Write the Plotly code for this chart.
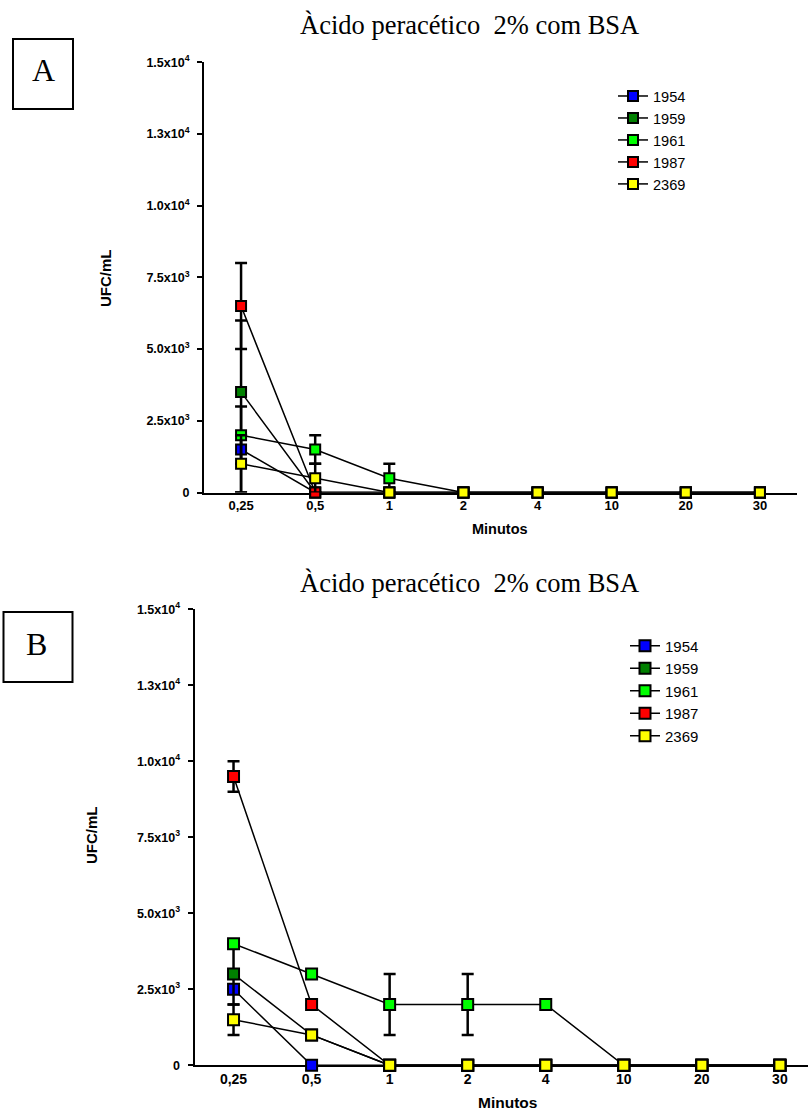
import plotly.graph_objects as go

W, H = 808, 1113

# Tempos de exposição (eixo categórico) e cepas
minutos = ["0,25", "0,5", "1", "2", "4", "10", "20", "30"]
cepas = ["1954", "1959", "1961", "1987", "2369"]
cores = ["#0000FF", "#008000", "#00FF00", "#FF0000", "#FFFF00"]

# Painel A: médias (UFC/mL)
a_1954 = [1500, 0, 0, 0, 0, 0, 0, 0]
a_1959 = [3500, 0, 0, 0, 0, 0, 0, 0]
a_1961 = [2000, 1500, 500, 0, 0, 0, 0, 0]
a_1987 = [6500, 0, 0, 0, 0, 0, 0, 0]
a_2369 = [1000, 500, 0, 0, 0, 0, 0, 0]

# Painel A: desvios
a_dp_1954 = [1500, 0, 0, 0, 0, 0, 0, 0]
a_dp_1959 = [2500, 0, 0, 0, 0, 0, 0, 0]
a_dp_1961 = [0, 500, 500, 0, 0, 0, 0, 0]
a_dp_1987 = [1500, 0, 0, 0, 0, 0, 0, 0]
a_dp_2369 = [1000, 500, 0, 0, 0, 0, 0, 0]

# Painel B: médias (UFC/mL)
b_1954 = [2500, 0, 0, 0, 0, 0, 0, 0]
b_1959 = [3000, 1000, 0, 0, 0, 0, 0, 0]
b_1961 = [4000, 3000, 2000, 2000, 2000, 0, 0, 0]
b_1987 = [9500, 2000, 0, 0, 0, 0, 0, 0]
b_2369 = [1500, 1000, 0, 0, 0, 0, 0, 0]

# Painel B: desvios
b_dp_1954 = [0, 0, 0, 0, 0, 0, 0, 0]
b_dp_1959 = [1000, 0, 0, 0, 0, 0, 0, 0]
b_dp_1961 = [0, 0, 1000, 1000, 0, 0, 0, 0]
b_dp_1987 = [500, 0, 0, 0, 0, 0, 0, 0]
b_dp_2369 = [500, 0, 0, 0, 0, 0, 0, 0]

y_tickvals = [0, 2500, 5000, 7500, 10000, 12500, 15000]
y_ticktext = ["0", "2.5x10<sup>3</sup>", "5.0x10<sup>3</sup>", "7.5x10<sup>3</sup>",
              "1.0x10<sup>4</sup>", "1.3x10<sup>4</sup>", "1.5x10<sup>4</sup>"]

titulo = "Àcido peracético \u00a02% com BSA"

painel_a = [a_1954, a_1959, a_1961, a_1987, a_2369]
painel_a_dp = [a_dp_1954, a_dp_1959, a_dp_1961, a_dp_1987, a_dp_2369]
painel_b = [b_1954, b_1959, b_1961, b_1987, b_2369]
painel_b_dp = [b_dp_1954, b_dp_1959, b_dp_1961, b_dp_1987, b_dp_2369]


def fx(px):
    return px / W


def fy(py):
    return 1 - py / H


fig = go.Figure()

for series, errs, xa, ya, leg, msize in [
    (painel_a, painel_a_dp, "x", "y", "legend", 10),
    (painel_b, painel_b_dp, "x2", "y2", "legend2", 11),
]:
    for nome, cor, vals, dp in zip(cepas, cores, series, errs):
        fig.add_trace(go.Scatter(
            x=minutos, y=vals, name=nome, xaxis=xa, yaxis=ya, legend=leg,
            mode="lines+markers", cliponaxis=False,
            line=dict(color="black", width=1.5),
            marker=dict(symbol="square", size=msize, color=cor,
                        line=dict(color="black", width=2)),
            error_y=dict(type="data", array=dp, visible=True,
                         color="black", thickness=2.5, width=6),
        ))

axis_font = dict(family="Liberation Sans, Arial", size=12.5, color="black", weight="bold")

xcommon = dict(type="category", showline=True, linecolor="black", linewidth=2,
               ticks="", showgrid=False, zeroline=False, layer="below traces",
               automargin=False, categoryorder="array", categoryarray=minutos)
ycommon = dict(showline=True, linecolor="black", linewidth=2, ticks="outside",
               ticklen=5, tickwidth=2, tickcolor="black", showgrid=False,
               zeroline=False, layer="below traces", range=[0, 15000],
               automargin=False, ticklabelstandoff=5,
               tickvals=y_tickvals, ticktext=y_ticktext, tickfont=axis_font)

fig.update_layout(
    width=W, height=H, margin=dict(l=0, r=0, t=0, b=0, pad=0, autoexpand=False),
    paper_bgcolor="white", plot_bgcolor="white", showlegend=True,
    xaxis=dict(xcommon, domain=[fx(204), fx(797)], range=[-0.5, 7.5], anchor="y",
               tickfont=dict(axis_font, size=13)),
    yaxis=dict(ycommon, domain=[fy(492.5), fy(62.3)], anchor="x"),
    xaxis2=dict(xcommon, domain=[fx(194.5), 1.0], range=[-0.5, 7.36], anchor="y2",
                tickfont=dict(axis_font, size=14)),
    yaxis2=dict(ycommon, domain=[fy(1065.3), fy(609.3)], anchor="x2"),
    legend=dict(x=fx(613), y=fy(80), xanchor="left", yanchor="top",
                bgcolor="rgba(0,0,0,0)", tracegroupgap=0,
                font=dict(family="Liberation Sans, Arial", size=14.6, color="black")),
    legend2=dict(x=fx(625), y=fy(629.5), xanchor="left", yanchor="top",
                 bgcolor="rgba(0,0,0,0)", tracegroupgap=0,
                 font=dict(family="Liberation Sans, Arial", size=15, color="black")),
)

serif = "Liberation Serif, Times New Roman"
bold_sans = dict(family="Liberation Sans, Arial", color="black", weight="bold")

notes = [
    (titulo, 470, 25, dict(family=serif, size=26.5, color="black"), 0),
    (titulo, 470, 583, dict(family=serif, size=26.5, color="black"), 0),
    ("A", 43, 70, dict(family=serif, size=32, color="black"), 0),
    ("B", 36, 644, dict(family=serif, size=32, color="black"), 0),
    ("UFC/mL", 105, 278, dict(bold_sans, size=15), -90),
    ("UFC/mL", 91, 835, dict(bold_sans, size=15), -90),
    ("Minutos", 500, 529, dict(bold_sans, size=14.5), 0),
    ("Minutos", 507, 1102, dict(bold_sans, size=15.5), 0),
]
for text, px, py, font, ang in notes:
    fig.add_annotation(text=text, x=fx(px), y=fy(py), xref="paper", yref="paper",
                       xanchor="center", yanchor="middle", showarrow=False,
                       font=font, textangle=ang)

# Molduras das letras dos painéis
for x0, y0, x1, y1 in [(13, 39, 73, 109), (3.5, 612, 72.5, 682)]:
    fig.add_shape(type="rect", xref="paper", yref="paper",
                  x0=fx(x0), x1=fx(x1), y0=fy(y1), y1=fy(y0),
                  line=dict(color="black", width=2))

fig.write_html("out.html")
